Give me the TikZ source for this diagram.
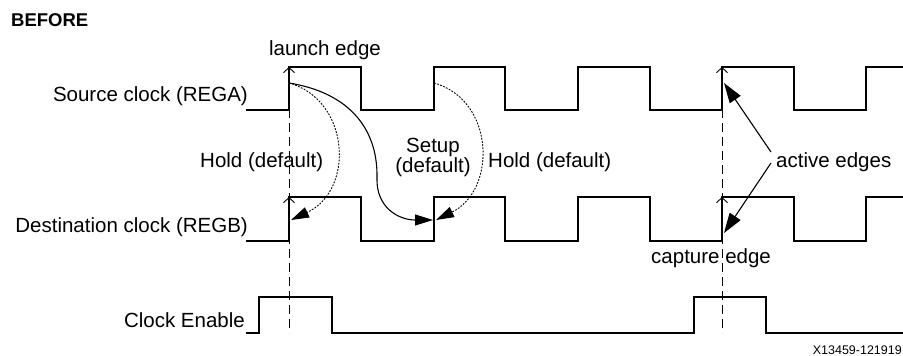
\documentclass[tikz,border=0pt]{standalone}
\usepackage{fontspec}
\setmainfont{Liberation Sans}
\usetikzlibrary{arrows.meta}

\begin{document}
\begin{tikzpicture}[
    x=1pt, y=-1pt,
    wave/.style={line width=1.8pt, line join=miter},
    guide/.style={line width=1pt, dash pattern=on 9pt off 5pt},
    lbl node/.style={inner sep=0pt, font=\fontsize{20.5}{20}\selectfont},
    edge tip/.style={line width=0.9pt, -{Straight Barb[length=5pt,width=11pt]}},
    hold arc/.style={line width=0.9pt, dash pattern=on 1.8pt off 1.4pt, -{Triangle[length=18pt,width=11pt]}},
    setup arc/.style={line width=1.1pt, -{Triangle[length=18pt,width=11pt]}},
    pointer/.style={line width=1.1pt, -{Triangle[length=20pt,width=13pt]}}
]
\useasboundingbox (0,0) rectangle (903,356);

% launch / capture edge guides (behind the waveforms)
\coordinate (L0) at (289,67);  \coordinate (L1) at (289,333);
\coordinate (C0) at (722,67);  \coordinate (C1) at (722,333);
\draw[guide] (L0) -- (L1);
\draw[guide] (C0) -- (C1);

% waveforms: REGA, REGB, clock enable
\draw[wave] (246,110) -- (289,110) -- (289,67) -- (361,67) -- (361,110) -- (434,110) -- (434,67)
    -- (505,67) -- (505,110) -- (578,110) -- (578,67) -- (650,67) -- (650,110) -- (722,110)
    -- (722,67) -- (794,67) -- (794,110) -- (866,110) -- (866,67) -- (903,67);
\draw[wave] (246,241) -- (289,241) -- (289,197) -- (361,197) -- (361,241) -- (434,241) -- (434,197)
    -- (505,197) -- (505,241) -- (578,241) -- (578,197) -- (650,197) -- (650,241) -- (722,241)
    -- (722,197) -- (794,197) -- (794,241) -- (866,241) -- (866,197) -- (903,197);
\draw[wave] (246,333) -- (259,333) -- (259,297) -- (332,297) -- (332,333) -- (694,333)
    -- (694,297) -- (766,297) -- (766,333) -- (903,333);

% open tips on the launch and capture edges
\coordinate (LA) at (289,67);  \coordinate (LAb) at (289,76);
\coordinate (LB) at (289,197); \coordinate (LBb) at (289,206);
\coordinate (CA) at (722,67);  \coordinate (CAb) at (722,76);
\coordinate (CB) at (722,197); \coordinate (CBb) at (722,206);
\draw[edge tip] (LAb) -- (LA);
\draw[edge tip] (LBb) -- (LB);
\draw[edge tip] (CAb) -- (CA);
\draw[edge tip] (CBb) -- (CB);

% setup and hold relations
\coordinate (srcA) at (289,83);
\coordinate (srcN) at (434,83);
\coordinate (dstH) at (291,220);
\coordinate (dstS) at (433,220);
\coordinate (dstN) at (436,220);
\draw[hold arc] (srcA) .. controls (350,100) and (355,190) .. (dstH);
\draw[setup arc] (srcA) .. controls (345,92) and (378,125) .. (377,178)
    .. controls (376,207) and (398,220) .. (dstS);
\draw[hold arc] (srcN) .. controls (495,100) and (497,190) .. (dstN);

% labels
\node[inner sep=0pt, anchor=base west, font=\fontsize{18.5}{18}\selectfont\bfseries] (before) at (11,27) {BEFORE};
\node[lbl node, anchor=base] (launch) at (325,56) {launch edge};
\node[lbl node, anchor=base east] (rega) at (248,101) {Source clock (REGA)};
\node[lbl node, anchor=base east] (regb) at (248,232) {Destination clock (REGB)};
\node[lbl node, anchor=base east] (ce) at (245,327) {Clock Enable};
\node[lbl node, anchor=base west] (holdL) at (200,167) {Hold (default)};
\node[lbl node, align=center] (setup) at (433,157) {Setup\\(default)};
\node[lbl node, anchor=base west] (holdR) at (488,167) {Hold (default)};
\node[lbl node, anchor=base west] (active) at (776,167) {active edges};
\node[lbl node, anchor=base west] (capture) at (651,263) {capture edge};
\node[inner sep=0pt, anchor=base east, font=\fontsize{12.5}{12.5}\selectfont] (fig) at (902,354) {X13459-121919};

% pointers to the active edges
\coordinate (act1) at (771,152);
\coordinate (act2) at (771,163);
\coordinate (edgeA) at (724,83);
\coordinate (edgeB) at (724,233);
\draw[pointer] (act1) -- (edgeA);
\draw[pointer] (act2) -- (edgeB);

\end{tikzpicture}
\end{document}
